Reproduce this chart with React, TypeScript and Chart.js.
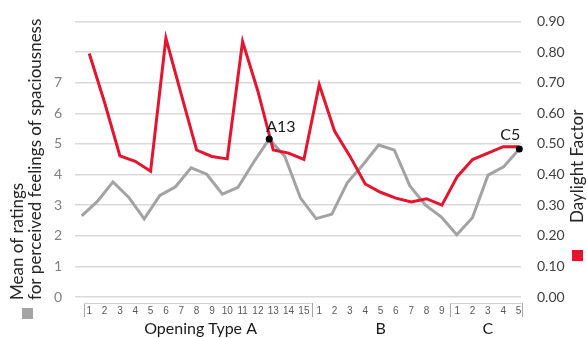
import React, { useEffect, useRef } from "react";
import { Chart, registerables } from "chart.js";

Chart.register(...registerables);

const xLabels = [
  "1", "2", "3", "4", "5", "6", "7", "8", "9", "10", "11", "12", "13", "14", "15",
  "1", "2", "3", "4", "5", "6", "7", "8", "9",
  "1", "2", "3", "4", "5",
];
const groupNames = ["Opening Type A", "B", "C"];
const groupSizes = [15, 9, 5];

const spaciousness = [
  2.65, 3.12, 3.76, 3.26, 2.55, 3.32, 3.6, 4.22, 4.01, 3.36, 3.58, 4.4, 5.16, 4.59, 3.23,
  2.56, 2.7, 3.74, 4.32, 4.96, 4.8, 3.63, 3.0, 2.62,
  2.03, 2.59, 3.98, 4.25, 4.83,
];
const daylightFactor = [
  0.795, 0.635, 0.461, 0.443, 0.411, 0.845, 0.662, 0.48, 0.459, 0.451, 0.834, 0.672, 0.48, 0.47, 0.449,
  0.694, 0.542, 0.46, 0.369, 0.342, 0.323, 0.31, 0.321, 0.3,
  0.393, 0.449, 0.47, 0.491, 0.491,
];
const markerIndex = [12, 28];
const markerLabels = ["A13", "C5"];

const leftTicks = [0, 1, 2, 3, 4, 5, 6, 7];

const RED = "#e3152f";
const GRAY = "#a3a3a3";
const FONT = "Lato, 'Open Sans', sans-serif";

export default function App() {
  const ref = useRef<HTMLCanvasElement | null>(null);

  useEffect(() => {
    const canvas = ref.current;
    if (!canvas) return;

    const overlay = {
      id: "overlay",
      afterDraw(chart: any) {
        const ctx = chart.ctx as CanvasRenderingContext2D;
        const x2 = chart.scales.x2;
        const area = chart.chartArea;
        ctx.save();

        // left rotated title
        ctx.fillStyle = "#262626";
        ctx.font = `17px ${FONT}`;
        ctx.textAlign = "left";
        ctx.textBaseline = "middle";
        const lines = ["Mean of ratings", "for perceived feelings of spaciousness"];
        const lx = [18, 36];
        lines.forEach((t, i) => {
          ctx.save();
          ctx.translate(lx[i], 300);
          ctx.rotate(-Math.PI / 2);
          ctx.fillText(t, 0, 0);
          ctx.restore();
        });
        ctx.fillStyle = GRAY;
        ctx.fillRect(22, 308, 11, 11);

        // right rotated title
        ctx.fillStyle = "#262626";
        ctx.save();
        ctx.translate(578, 223);
        ctx.rotate(-Math.PI / 2);
        ctx.fillText("Daylight Factor", 0, 0);
        ctx.restore();
        ctx.fillStyle = RED;
        ctx.fillRect(572, 250, 11, 11);

        // group boxes
        ctx.strokeStyle = "#a6a6a6";
        ctx.lineWidth = 1;
        const top = area.bottom + 6;
        const bot = area.bottom + 20;
        let start = 0;
        const bounds: number[] = [x2.getPixelForValue(-0.35)];
        groupSizes.forEach((n) => {
          start += n;
          bounds.push(x2.getPixelForValue(start - 0.5));
        });
        bounds[bounds.length - 1] = x2.getPixelForValue(groupSizes.reduce((a, b) => a + b, 0) - 0.8);
        bounds.forEach((px) => {
          ctx.beginPath();
          ctx.moveTo(Math.round(px) + 0.5, top);
          ctx.lineTo(Math.round(px) + 0.5, bot);
          ctx.stroke();
        });
        ctx.strokeStyle = "#d0d0d0";
        [[bounds[0], bounds[1]], [bounds[2], bounds[3]]].forEach(([a, b]) => {
          ctx.beginPath();
          ctx.moveTo(a, top + 0.5);
          ctx.lineTo(b, top + 0.5);
          ctx.stroke();
        });

        // group names
        ctx.fillStyle = "#1a1a1a";
        ctx.font = `16px ${FONT}`;
        ctx.textAlign = "center";
        ctx.textBaseline = "alphabetic";
        let s = 0;
        groupNames.forEach((g, i) => {
          const a = x2.getPixelForValue(s);
          const b = x2.getPixelForValue(s + groupSizes[i] - 1);
          ctx.fillText(g, (a + b) / 2 + (i === 0 ? 4 : 0), 334);
          s += groupSizes[i];
        });

        // marker labels
        const meta = chart.getDatasetMeta(0);
        ctx.font = `16px ${FONT}`;
        meta.data.forEach((pt: any, i: number) => {
          if (i === 0) {
            ctx.textAlign = "left";
            ctx.fillText(markerLabels[i], pt.x - 3, pt.y - 7);
          } else {
            ctx.textAlign = "right";
            ctx.fillText(markerLabels[i], pt.x + 1, pt.y - 9);
          }
        });
        ctx.restore();
      },
    };

    const chart = new Chart(canvas, {
      type: "line",
      data: {
        datasets: [
          {
            label: "markers",
            data: markerIndex.map((i) => ({ x: i, y: spaciousness[i] })),
            xAxisID: "x",
            yAxisID: "y",
            showLine: false,
            pointRadius: 3.5,
            pointBackgroundColor: "#000",
            pointBorderWidth: 0,
            clip: false,
            order: 0,
          },
          {
            label: "Daylight Factor",
            data: daylightFactor.map((v, i) => ({ x: i, y: v })),
            xAxisID: "x2",
            yAxisID: "y2",
            borderColor: RED,
            borderWidth: 3,
            pointRadius: 0,
            tension: 0,
            order: 1,
          },
          {
            label: "Spaciousness",
            data: spaciousness.map((v, i) => ({ x: i, y: v })),
            xAxisID: "x",
            yAxisID: "y",
            borderColor: GRAY,
            borderWidth: 3,
            pointRadius: 0,
            tension: 0,
            order: 2,
          },
        ],
      },
      options: {
        responsive: false,
        animation: false,
        layout: { padding: { top: 15, left: 0, right: 0, bottom: 0 } },
        plugins: { legend: { display: false }, tooltip: { enabled: false } },
        scales: {
          x: {
            type: "linear",
            display: false,
            min: -0.43,
            max: 28.11,
          },
          x2: {
            type: "linear",
            position: "bottom",
            min: -0.93,
            max: 28.16,
            grid: { display: false, drawTicks: false },
            border: { display: false },
            afterBuildTicks: (sc: any) => {
              sc.ticks = xLabels.map((_, i) => ({ value: i }));
            },
            afterFit: (sc: any) => {
              sc.height = 41;
            },
            ticks: {
              autoSkip: false,
              maxRotation: 0,
              minRotation: 0,
              padding: 8,
              color: "#595959",
              font: { family: "'Liberation Sans', sans-serif", size: 10 },
              callback: (v: any) => xLabels[Math.round(Number(v))],
            },
          },
          y: {
            position: "left",
            min: 0,
            max: 9,
            afterBuildTicks: (sc: any) => {
              sc.ticks = [0, 1, 2, 3, 4, 5, 6, 7, 8, 9].map((v) => ({ value: v }));
            },
            afterFit: (sc: any) => {
              sc.width = 75;
            },
            grid: { color: "#d9d9d9", lineWidth: 1.5, drawTicks: false },
            border: { display: false },
            ticks: {
              padding: 13,
              color: "#808080",
              font: { family: FONT, size: 14 },
              callback: (v: any) => (leftTicks.includes(Number(v)) ? String(v) : ""),
            },
          },
          y2: {
            position: "right",
            min: 0,
            max: 0.9,
            afterBuildTicks: (sc: any) => {
              sc.ticks = [0, 0.1, 0.2, 0.3, 0.4, 0.5, 0.6, 0.7, 0.8, 0.9].map((v) => ({ value: v }));
            },
            afterFit: (sc: any) => {
              sc.width = 66;
            },
            grid: { display: false },
            border: { display: false },
            ticks: {
              padding: 8,
              color: "#404040",
              font: { family: FONT, size: 14 },
              callback: (v: any) => Number(v).toFixed(2),
            },
          },
        },
      },
      plugins: [overlay],
    });

    return () => chart.destroy();
  }, []);

  return (
    <div style={{ position: "absolute", left: 0, top: 0, width: 587, height: 338, background: "#fff" }}>
      <canvas ref={ref} width={587} height={338} style={{ display: "block" }} />
    </div>
  );
}
